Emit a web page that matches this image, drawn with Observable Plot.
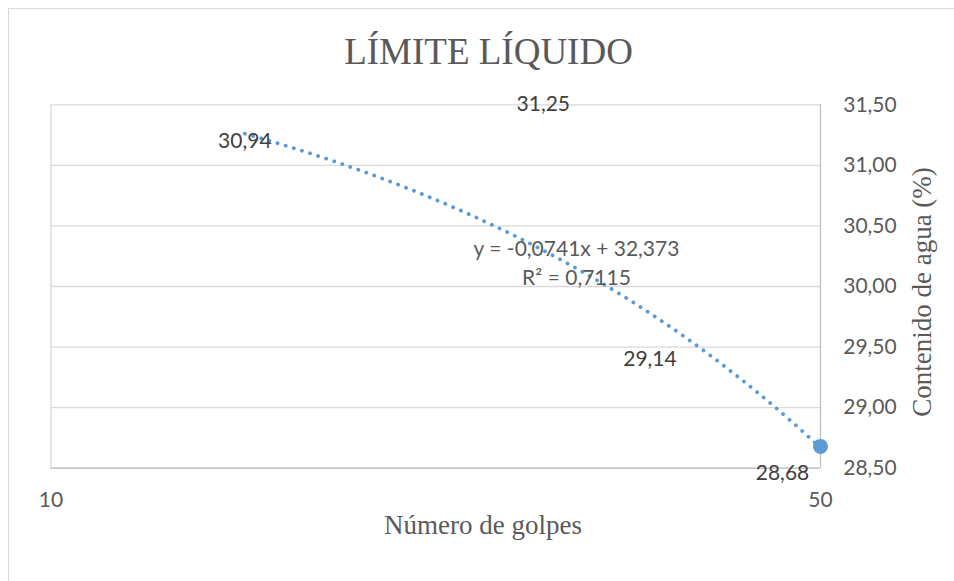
<!DOCTYPE html>
<html><head><meta charset="utf-8">
<script src="https://cdn.jsdelivr.net/npm/d3@7"></script>
<script src="https://cdn.jsdelivr.net/npm/@observablehq/plot@0.6"></script>
<style>
body{margin:0;background:#fff;}
#wrap{position:relative;width:954px;height:581px;overflow:hidden;background:#fff;}
#border{position:absolute;left:8px;top:8px;width:1000px;height:1000px;border:1.5px solid #D9D9D9;box-sizing:border-box}
#chart{position:absolute;left:0;top:0}
</style></head><body>
<div id="wrap"><div id="border"></div><div id="chart"></div></div>
<script>
// Data
const golpes  = [15, 28, 35, 50];                 // Número de golpes
const humedad = [30.94, 31.25, 29.14, 28.68];     // Contenido de agua (%)
const yTicks  = [28.5, 29, 29.5, 30, 30.5, 31, 31.5];
const xTicks  = [10, 50];
// Linear trendline as shown in the chart
const slope = -0.0741, intercept = 32.373, r2 = 0.7115;
const title  = "LÍMITE LÍQUIDO";
const xTitle = "Número de golpes";
const yTitle = "Contenido de agua (%)";

const comma = (v, d) => v.toFixed(d).replace(".", ",");
const pts = golpes.map((x, i) => ({x, y: humedad[i], label: comma(humedad[i], 2)}));
const x0 = d3.min(golpes), x1 = d3.max(golpes);
const trend = d3.range(0, 121).map(i => {
  const x = x0 * Math.pow(x1 / x0, i / 120);
  return {x, y: slope * x + intercept};
});
const eq = `y = ${comma(slope, 4)}x + ${comma(intercept, 3)}\nR² = ${comma(r2, 4)}`;

const chart = Plot.plot({
  width: 954, height: 581,
  marginLeft: 50.5, marginRight: 134, marginTop: 104.3, marginBottom: 113.3,
  style: {fontFamily: "Lato", fontSize: "21px", color: "#595959", background: "transparent"},
  x: {type: "log", domain: [10, 50]},
  y: {domain: [28.5, 31.5]},
  marks: [
    Plot.ruleY(yTicks, {stroke: "#D9D9D9", strokeWidth: 1.3}),
    Plot.ruleX([xTicks[0]], {stroke: "#D9D9D9", strokeWidth: 1.3}),
    Plot.ruleX([xTicks[1]], {stroke: "#BFBFBF", strokeWidth: 1.3}),
    Plot.ruleY([yTicks[0]], {stroke: "#BFBFBF", strokeWidth: 1.3}),
    Plot.axisX(xTicks, {tickSize: 0, tickPadding: 24, tickFormat: d => String(d), label: null, fill: "#595959"}),
    Plot.axisY(yTicks, {anchor: "right", tickSize: 0, tickPadding: 22.7, tickFormat: d => comma(d, 2), label: null, fill: "#595959"}),
    Plot.line(trend, {x: "x", y: "y", stroke: "#5B9BD5", strokeWidth: 3.8, strokeDasharray: "0.1 8.4", strokeLinecap: "round"}),
    Plot.dot(pts.slice(-1), {x: "x", y: "y", r: 7.5, fill: "#5B9BD5"}),
    Plot.text(pts.slice(0, -1), {x: "x", y: "y", text: "label", dy: -31, fill: "#404040"}),
    Plot.text(pts.slice(-1), {x: "x", y: "y", text: "label", dx: -38, dy: 27, fill: "#404040"}),
    Plot.text([eq], {frameAnchor: "top-left", textAnchor: "middle", lineAnchor: "middle", dx: 525.5, dy: 156.4, lineHeight: 1.37, fill: "#595959"}),
    Plot.text([title], {frameAnchor: "top", textAnchor: "middle", lineAnchor: "middle", dx: 52.75, dy: -53.1, fontFamily: "Liberation Serif", fontSize: 37, fill: "#595959"}),
    Plot.text([xTitle], {frameAnchor: "bottom", textAnchor: "middle", lineAnchor: "middle", dx: 47.25, dy: 56.7, fontFamily: "Liberation Serif", fontSize: 27, fill: "#595959"}),
    Plot.text([yTitle], {frameAnchor: "right", textAnchor: "middle", lineAnchor: "middle", rotate: -90, dx: 102, dy: 5.5, fontFamily: "Liberation Serif", fontSize: 27, fill: "#595959"})
  ]
});
document.getElementById("chart").appendChild(chart);
</script>
</body></html>
